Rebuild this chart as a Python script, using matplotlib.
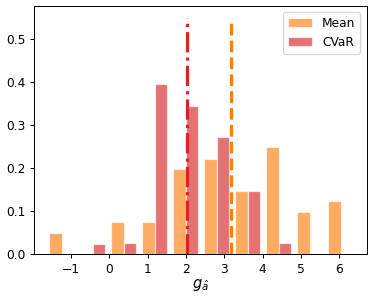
import numpy as np
import matplotlib
matplotlib.use("Agg")
import matplotlib.pyplot as plt

# histogram bins and counts (50 samples each)
bin_edges = [-1.64, -0.83, -0.02, 0.78, 1.59, 2.40, 3.21, 4.02, 4.82, 5.63, 6.44]
mean_counts = [2, 0, 3, 3, 8, 9, 6, 10, 4, 5]
cvar_counts = [0, 1, 1, 16, 14, 11, 6, 1, 0, 0]
labels = ["Mean", "CVaR"]

# reference lines
mean_line = 3.18
cvar_line = 2.04
line_top = 0.55

centers = [(a + b) / 2 for a, b in zip(bin_edges[:-1], bin_edges[1:])]

dpi = 88
fig = plt.figure(figsize=(374 / dpi, 297 / dpi), dpi=dpi)
ax = fig.add_axes([0.091, 0.144, 0.889, 0.836])

ax.hist([centers, centers], bins=bin_edges, weights=[mean_counts, cvar_counts],
        density=True, color=["C1", "C3"], alpha=0.65, ec="white", lw=1,
        label=labels)
ax.plot([cvar_line, cvar_line], [0, line_top], "-.", color="C3", lw=2.6)
ax.plot([mean_line, mean_line], [0, line_top], "--", color="C1", lw=2.6)

ax.set_xlim(-1.96, 6.71)
ax.set_xticks([-1, 0, 1, 2, 3, 4, 5, 6])
ax.set_xlabel(r"$g_{\hat{a}}$", fontsize=12, labelpad=1)
ax.legend(loc="upper right")

fig.savefig("out.png", dpi=dpi)
